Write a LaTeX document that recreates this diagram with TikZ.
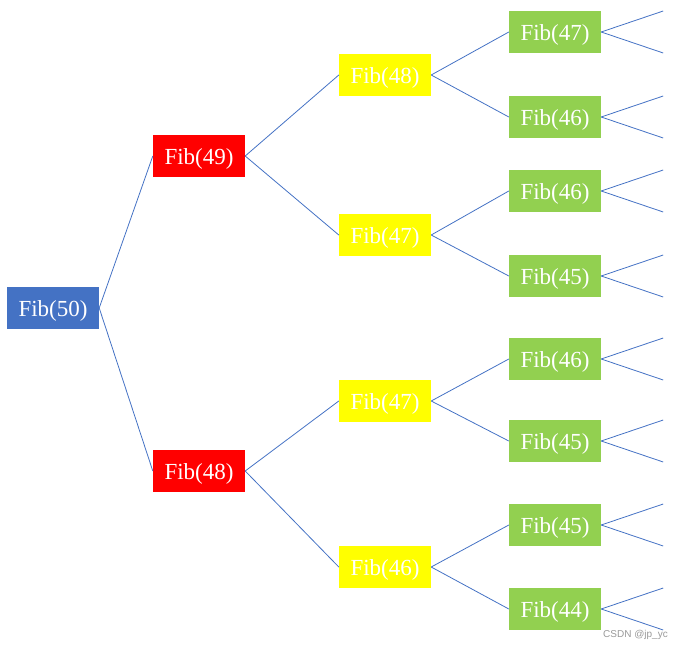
\documentclass[tikz,border=0pt]{standalone}
\usepackage{fontspec}
\setmainfont{Liberation Serif}
\newfontfamily\wmfont{Liberation Sans}
\definecolor{fbblue}{HTML}{4472C4}
\definecolor{fbred}{HTML}{FF0000}
\definecolor{fbyellow}{HTML}{FFFF00}
\definecolor{fbgreen}{HTML}{92D050}
\definecolor{edgeblue}{HTML}{4472C4}
\definecolor{wmgray}{HTML}{999999}
\begin{document}
\begin{tikzpicture}[x=1pt,y=-1pt,
  fib/.style={minimum width=92pt,minimum height=42pt,inner sep=0pt,text=white,
    text height=19pt,text depth=2pt,
    font=\fontsize{23}{27}\selectfont},
  lvl0/.style={fib,fill=fbblue},
  lvl1/.style={fib,fill=fbred},
  lvl2/.style={fib,fill=fbyellow},
  lvl3/.style={fib,fill=fbgreen},
  edge/.style={draw=edgeblue,line width=0.8pt}]
\useasboundingbox (0,0) rectangle (682,650);
\node[lvl0] (a) at (53,308) {Fib(50)};
\node[lvl1] (b1) at (199,156) {Fib(49)};
\node[lvl1] (b2) at (199,471) {Fib(48)};
\node[lvl2] (c1) at (385,75) {Fib(48)};
\node[lvl2] (c2) at (385,235) {Fib(47)};
\node[lvl2] (c3) at (385,401) {Fib(47)};
\node[lvl2] (c4) at (385,567) {Fib(46)};
\node[lvl3] (d1) at (555,32) {Fib(47)};
\node[lvl3] (d2) at (555,117) {Fib(46)};
\node[lvl3] (d3) at (555,191) {Fib(46)};
\node[lvl3] (d4) at (555,276) {Fib(45)};
\node[lvl3] (d5) at (555,359) {Fib(46)};
\node[lvl3] (d6) at (555,441) {Fib(45)};
\node[lvl3] (d7) at (555,525) {Fib(45)};
\node[lvl3] (d8) at (555,609) {Fib(44)};
\draw[edge] (a.east) -- (b1.west);
\draw[edge] (a.east) -- (b2.west);
\draw[edge] (b1.east) -- (c1.west);
\draw[edge] (b1.east) -- (c2.west);
\draw[edge] (b2.east) -- (c3.west);
\draw[edge] (b2.east) -- (c4.west);
\draw[edge] (c1.east) -- (d1.west);
\draw[edge] (c1.east) -- (d2.west);
\draw[edge] (c2.east) -- (d3.west);
\draw[edge] (c2.east) -- (d4.west);
\draw[edge] (c3.east) -- (d5.west);
\draw[edge] (c3.east) -- (d6.west);
\draw[edge] (c4.east) -- (d7.west);
\draw[edge] (c4.east) -- (d8.west);
\foreach \n in {d1,d2,d3,d4,d5,d6,d7,d8}{
  \coordinate (\n u) at ([xshift=62pt,yshift=21pt]\n.east);
  \coordinate (\n l) at ([xshift=62pt,yshift=-21pt]\n.east);
  \draw[edge] (\n.east) -- (\n u);
  \draw[edge] (\n.east) -- (\n l);
}
\node[text=wmgray,font=\wmfont\fontsize{10}{12}\selectfont,inner sep=0pt,anchor=west] (wm) at (603,635) {CSDN @jp\_yc};
\end{tikzpicture}
\end{document}
